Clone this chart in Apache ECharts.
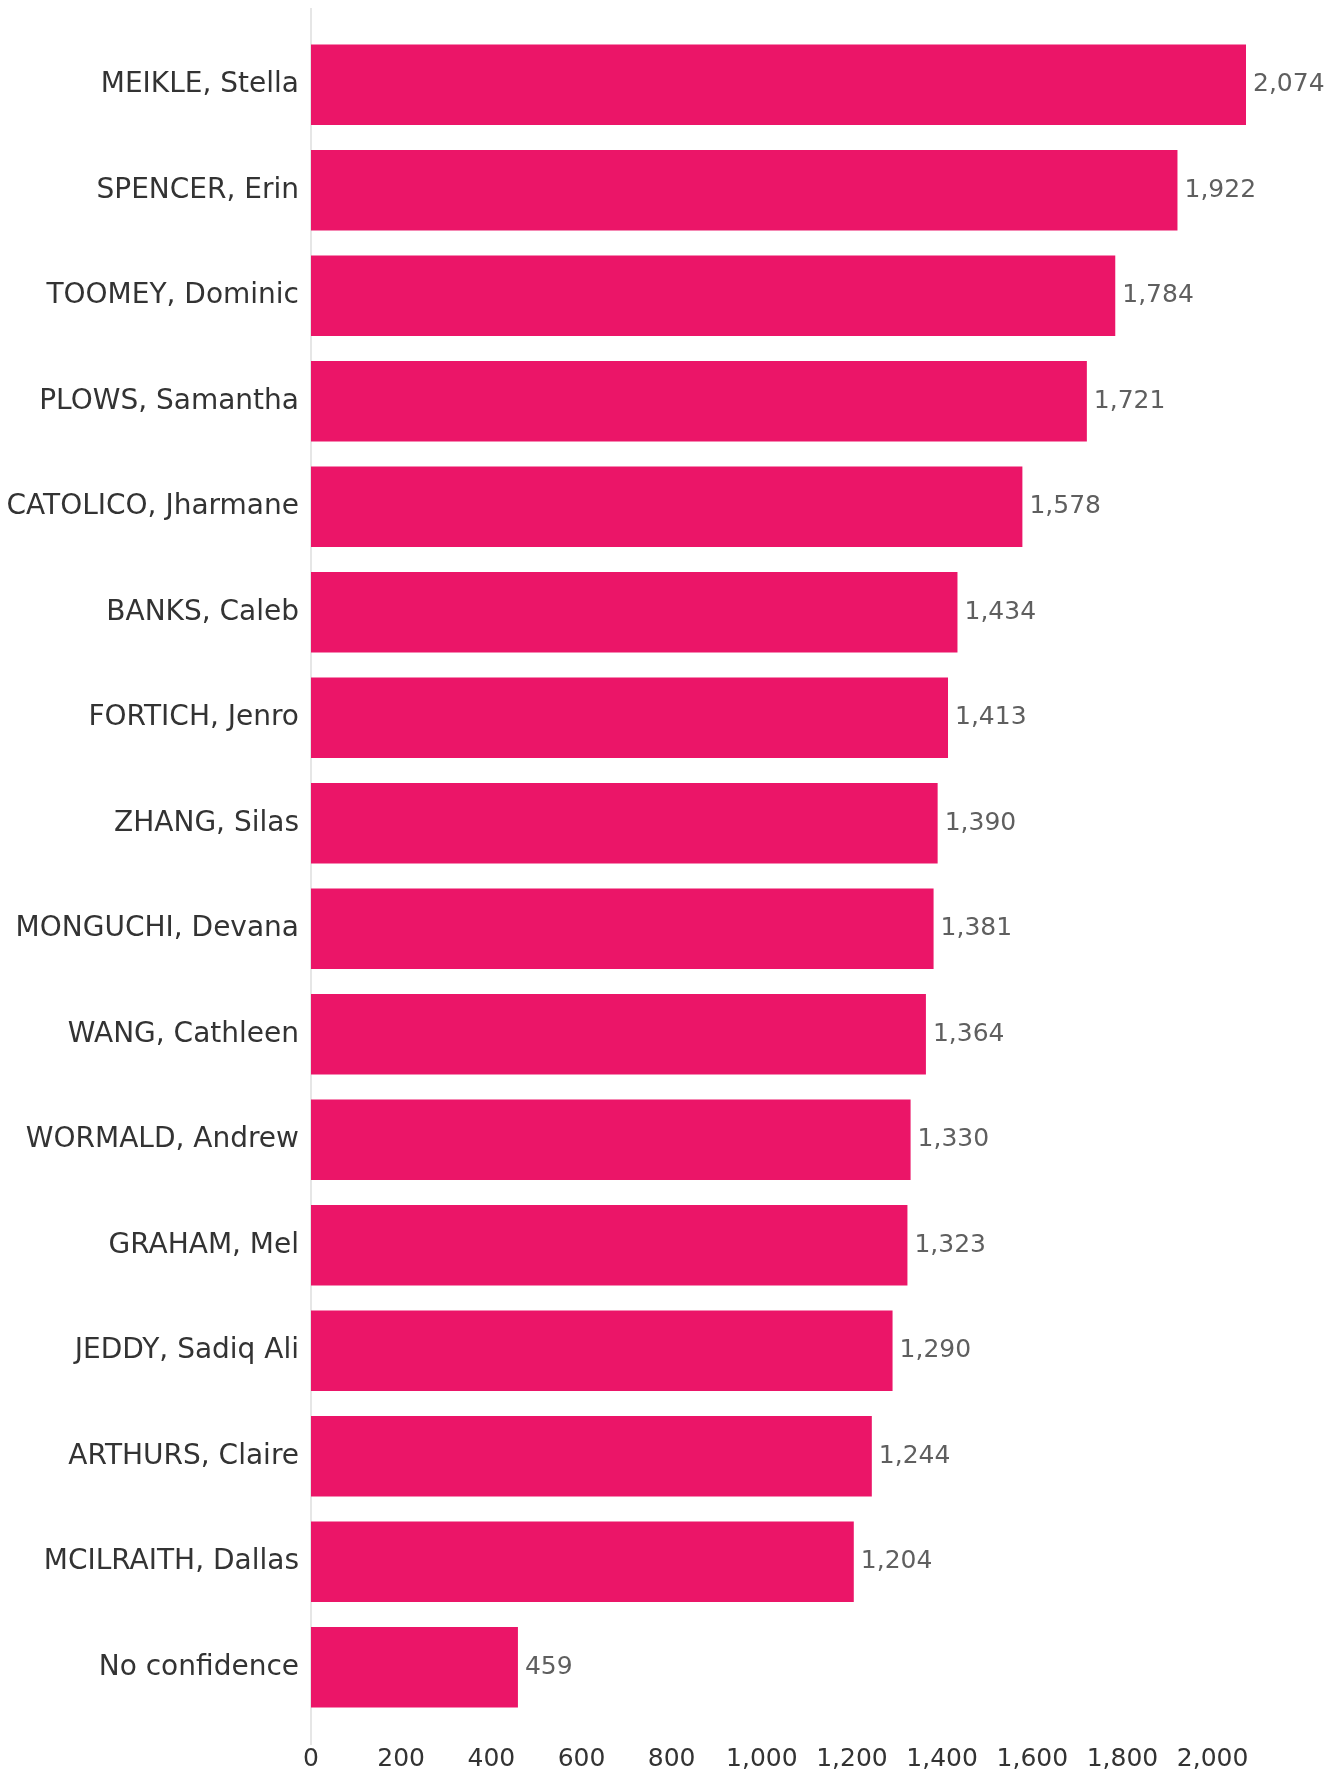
<!DOCTYPE html>
<html><head><meta charset="utf-8">
<script src="https://cdn.jsdelivr.net/npm/echarts@6/dist/echarts.min.js"></script>
<style>html,body{margin:0;padding:0;background:#fff}#c{width:1342px;height:1776px}</style>
</head><body><div id="c"></div>
<script>
const categories = ["MEIKLE, Stella","SPENCER, Erin","TOOMEY, Dominic","PLOWS, Samantha","CATOLICO, Jharmane","BANKS, Caleb","FORTICH, Jenro","ZHANG, Silas","MONGUCHI, Devana","WANG, Cathleen","WORMALD, Andrew","GRAHAM, Mel","JEDDY, Sadiq Ali","ARTHURS, Claire","MCILRAITH, Dallas","No confidence"];
const votes = [2074,1922,1784,1721,1578,1434,1413,1390,1381,1364,1330,1323,1290,1244,1204,459];
const FONT = '"DejaVu Sans", sans-serif';
const chart = echarts.init(document.getElementById('c'));
const fmt = v => Number(v).toLocaleString('en-US');
chart.setOption({
  animation: false,
  grid: {left: 311, right: 96, top: 32, bottom: 56, containLabel: false},
  xAxis: {
    type: 'value', min: 0, max: 2074, interval: 200,
    axisLine: {show: false}, axisTick: {show: false}, splitLine: {show: false},
    axisLabel: {showMaxLabel: false, formatter: fmt, color: '#333', fontFamily: FONT, fontSize: 25, margin: 27}
  },
  yAxis: {
    type: 'category', data: categories, inverse: true,
    axisLine: {show: false}, axisTick: {show: false},
    axisLabel: {color: '#333', fontFamily: FONT, fontSize: 28, margin: 12}
  },
  series: [{
    type: 'bar', data: votes, barCategoryGap: '23.5%',
    itemStyle: {color: '#EB1568'},
    label: {show: true, position: 'right', distance: 7, formatter: p => fmt(p.value), color: '#5f5f5f', fontFamily: FONT, fontSize: 25}
  }]
});
const x0 = chart.convertToPixel({xAxisIndex: 0}, 0);
chart.setOption({graphic: [{type: 'line', z: -1, shape: {x1: x0, y1: 8, x2: x0, y2: 1745}, style: {stroke: '#e6e6e6', lineWidth: 2}}]});
</script></body></html>
